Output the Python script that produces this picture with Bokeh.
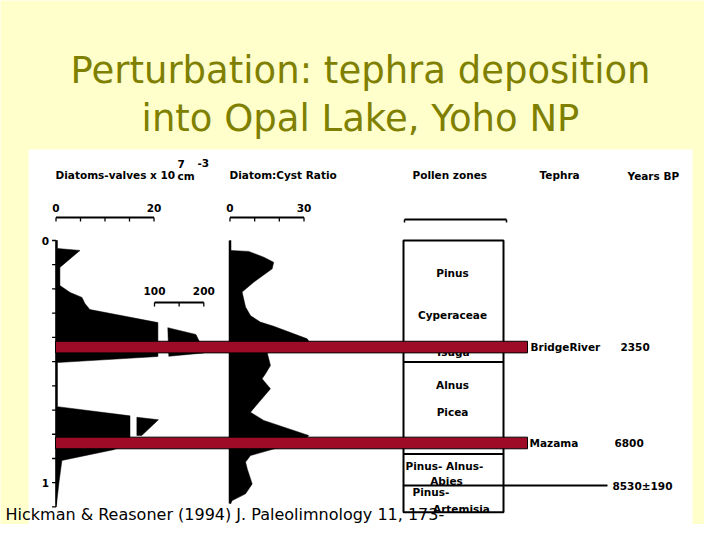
from bokeh.plotting import figure
from bokeh.models import Range1d
from bokeh.core.properties import value
from bokeh.embed import file_html
from bokeh.resources import INLINE

# ---------------- data ----------------
# Diatom valves (x10^7 cm^-3) on the 0-20 scale
dv_depth = [0.000, 0.033, 0.041, 0.111, 0.186, 0.215, 0.235, 0.260, 0.285, 0.339,
            0.479, 0.504, 0.686, 0.724, 0.838, 0.864, 0.908, 1.000, 1.090]
dv_value = [0.3, 0.3, 4.9, 0.8, 0.8, 2.9, 5.3, 5.9, 6.9, 20.8,
            20.8, 0.3, 0.3, 15.1, 15.1, 11.7, 1.2, 0.6, 0.1]
# off-scale peak, plotted on the broken 100-200 scale
dv_hi_depth = [0.360, 0.388, 0.413, 0.464, 0.478]
dv_hi_value = [127, 184, 190, 201, 129]
# second broken piece (0-20 scale units)
dv_brk_depth = [0.730, 0.740, 0.805, 0.805]
dv_brk_value = [16.5, 20.9, 17.5, 16.5]

# Diatom : cyst ratio
ratio_depth = [0.000, 0.041, 0.045, 0.069, 0.090, 0.117, 0.172, 0.213, 0.275, 0.310,
               0.337, 0.354, 0.406, 0.425, 0.455, 0.464, 0.488, 0.516, 0.550, 0.571,
               0.612, 0.709, 0.743, 0.805, 0.830, 0.860, 0.888, 0.915, 0.943, 1.005,
               1.046, 1.074, 1.086]
ratio_value = [0.2, 0.2, 7.6, 13.7, 17.7, 17.1, 9.6, 4.9, 6.3, 8.3,
               12.3, 17.7, 31.3, 32.5, 20.0, 15.1, 15.7, 16.4, 14.4, 13.0,
               16.4, 8.3, 13.7, 31.9, 30.0, 18.0, 8.3, 6.3, 7.0, 9.0,
               6.3, 0.9, 0.2]

# tephra layers
tephra_names = ["BridgeRiver", "Mazama"]
tephra_depth = [0.440, 0.836]
tephra_age = ["2350", "6800"]
tephra_thick = 0.048

# radiocarbon date
date_label = ["8530\u00b1190"]
date_depth = [1.012]

# pollen zones
zone_bounds = [0.0, 0.502, 0.881, 1.012, 1.122]
zone_labels = ["Pinus", "Cyperaceae", "Tsuga", "Alnus", "Picea"]
zone_label_depth = [0.136, 0.306, 0.462, 0.595, 0.710]
zone_labels2 = ["Pinus- Alnus-", "Pinus-"]
zone_labels2_depth = [0.933, 1.040]
zone_labels3 = ["Abies", "Artemisia"]
zone_labels3_depth = [0.991, 1.107]

# axes / scale bars
depth_ticks = [0.0, 0.1, 0.2, 0.3, 0.4, 0.5, 0.6, 0.7, 0.8, 0.9, 1.0, 1.1]
depth_tick_labels = ["0", "1"]
depth_tick_label_pos = [0.0, 1.0]
dv_ticks = [0, 5, 10, 15, 20]
dv_tick_labels = ["0", "20"]
dv_tick_label_pos = [0, 20]
dv_hi_ticks = [100, 150, 200]
dv_hi_tick_labels = ["100", "200"]
dv_hi_tick_label_pos = [100, 200]
ratio_ticks = [0, 10, 20, 30]
ratio_tick_labels = ["0", "30"]
ratio_tick_label_pos = [0, 30]

# ---------------- layout (screen px of the slide) ----------------
W, H = 704, 524
X0, Y0 = 0, 0


def D(y):      # screen y -> depth (m)
    return (y - 240.0) / 242.2


def V(x):      # screen x -> diatom scale
    return (x - 55.5) / 4.9


def HI(x):     # screen x -> broken 100-200 scale
    return 100 + (x - 154.0) / 0.493


def R(x):      # screen x -> ratio scale
    return (x - 229.5) / 2.467


p = figure(width=W, height=H, x_range=Range1d(X0, X0 + W), y_range=Range1d(Y0 + H, Y0),
           x_axis_location=None, y_axis_location=None, output_backend="svg",
           toolbar_location=None, min_border=0, background_fill_color="#FFFFCC",
           border_fill_color="#FFFFCC", outline_line_color=None)
p.title.visible = False
p.grid.grid_line_color = None
p.extra_x_ranges = {"dv": Range1d(V(X0), V(X0 + W)),
                    "dvhi": Range1d(HI(X0), HI(X0 + W)),
                    "ratio": Range1d(R(X0), R(X0 + W))}
p.extra_y_ranges = {"depth": Range1d(D(Y0 + H), D(Y0))}

# white scanned figure panel
p.quad(left=[28], right=[692], top=[149], bottom=[525], fill_color="white", line_color=None)

# title
p.text(x=[360, 360], y=[70, 118], text=["Perturbation: tephra deposition", "into Opal Lake, Yoho NP"],
       text_align="center", text_baseline="middle", text_color="#808000",
       text_font=value("DejaVu Sans"), text_font_size="37px")

bold = dict(text_font=value("DejaVu Sans"), text_font_style="bold", text_color="black")
FS = "10.5px"

# headers
p.text(x=[55], y=[174], text=["Diatoms-valves x 10"], text_align="left", text_baseline="middle",
       text_font_size=FS, **bold)
p.text(x=[177], y=[175], text=["cm"], text_align="left", text_baseline="middle", text_font_size=FS, **bold)
p.text(x=[177, 197], y=[163, 162], text=["7", "-3"], text_align="left", text_baseline="middle",
       text_font_size=FS, **bold)
p.text(x=[229, 412, 539, 627], y=[174, 174, 174, 175],
       text=["Diatom:Cyst Ratio", "Pollen zones", "Tephra", "Years BP"],
       text_align="left", text_baseline="middle", text_font_size=FS, **bold)

# ---- diatom valves panel ----
p.patch(x=[0] + dv_value + [0], y=[dv_depth[0]] + dv_depth + [dv_depth[-1]],
        x_range_name="dv", y_range_name="depth", fill_color="black", line_color="black", line_width=0.5)
p.patch(x=[dv_hi_value[0]] + dv_hi_value, y=[dv_hi_depth[0]] + dv_hi_depth,
        x_range_name="dvhi", y_range_name="depth", fill_color="black", line_color="black", line_width=0.5)
p.patch(x=dv_brk_value, y=dv_brk_depth, x_range_name="dv", y_range_name="depth",
        fill_color="black", line_color="black", line_width=0.5)
# depth axis
p.segment(x0=[0], x1=[0], y0=[depth_ticks[0]], y1=[depth_ticks[-1]], x_range_name="dv",
          y_range_name="depth", line_color="black", line_width=1.5)
p.segment(x0=[-0.8] * len(depth_ticks), x1=[0] * len(depth_ticks), y0=depth_ticks, y1=depth_ticks,
          x_range_name="dv", y_range_name="depth", line_color="black", line_width=1.3)
p.text(x=[-1.4] * 2, y=depth_tick_label_pos, text=depth_tick_labels, x_range_name="dv",
       y_range_name="depth", text_align="right", text_baseline="middle", text_font_size=FS, **bold)
# scale bar 0-20
p.segment(x0=[dv_ticks[0]], x1=[dv_ticks[-1]], y0=[217], y1=[217], x_range_name="dv",
          line_color="black", line_width=1.8)
p.segment(x0=dv_ticks, x1=dv_ticks, y0=[217] * 5, y1=[221] * 5, x_range_name="dv",
          line_color="black", line_width=1.3)
p.text(x=dv_tick_label_pos, y=[207, 207], text=dv_tick_labels, x_range_name="dv", text_align="center",
       text_baseline="middle", text_font_size=FS, **bold)
# scale bar 100-200
p.segment(x0=[dv_hi_ticks[0]], x1=[dv_hi_ticks[-1]], y0=[302], y1=[302], x_range_name="dvhi",
          line_color="black", line_width=1.8)
p.segment(x0=dv_hi_ticks, x1=dv_hi_ticks, y0=[302] * 3, y1=[306] * 3, x_range_name="dvhi",
          line_color="black", line_width=1.3)
p.text(x=dv_hi_tick_label_pos, y=[290, 290], text=dv_hi_tick_labels, x_range_name="dvhi",
       text_align="center", text_baseline="middle", text_font_size=FS, **bold)

# ---- ratio panel ----
p.patch(x=[0] + ratio_value + [0], y=[ratio_depth[0]] + ratio_depth + [ratio_depth[-1]],
        x_range_name="ratio", y_range_name="depth", fill_color="black", line_color="black", line_width=0.5)
p.segment(x0=[0], x1=[0], y0=[ratio_depth[0]], y1=[ratio_depth[-1]], x_range_name="ratio",
          y_range_name="depth", line_color="black", line_width=2.5)
p.segment(x0=[ratio_ticks[0]], x1=[ratio_ticks[-1]], y0=[217], y1=[217], x_range_name="ratio",
          line_color="black", line_width=1.8)
p.segment(x0=ratio_ticks, x1=ratio_ticks, y0=[217] * 4, y1=[221] * 4, x_range_name="ratio",
          line_color="black", line_width=1.3)
p.text(x=ratio_tick_label_pos, y=[207, 207], text=ratio_tick_labels, x_range_name="ratio",
       text_align="center", text_baseline="middle", text_font_size=FS, **bold)

# ---- pollen zones ----
p.segment(x0=[404], x1=[506], y0=[219], y1=[219], line_color="black", line_width=2)
p.segment(x0=[404, 506], x1=[404, 506], y0=[219, 219], y1=[222, 222], line_color="black", line_width=1.5)
p.quad(left=[403], right=[503], top=[zone_bounds[0]], bottom=[zone_bounds[-1]], y_range_name="depth",
       fill_color=None, line_color="black", line_width=2)
p.segment(x0=[403] * 2, x1=[503] * 2, y0=zone_bounds[1:3], y1=zone_bounds[1:3], y_range_name="depth",
          line_color="black", line_width=2)
p.text(x=[452] * len(zone_labels), y=zone_label_depth, text=zone_labels, y_range_name="depth",
       text_align="center", text_baseline="middle", text_font_size=FS, **bold)
p.text(x=[405, 412], y=zone_labels2_depth, text=zone_labels2, y_range_name="depth",
       text_align="left", text_baseline="middle", text_font_size=FS, **bold)
p.text(x=[446, 461], y=zone_labels3_depth, text=zone_labels3, y_range_name="depth",
       text_align="center", text_baseline="middle", text_font_size=FS, **bold)

# radiocarbon date line
p.segment(x0=[403], x1=[607], y0=date_depth, y1=date_depth, y_range_name="depth",
          line_color="black", line_width=2)
p.text(x=[612], y=date_depth, text=date_label, y_range_name="depth", text_align="left",
       text_baseline="middle", text_font_size=FS, **bold)

# tephra layers
p.hbar(y=tephra_depth, height=tephra_thick, left=55, right=527, y_range_name="depth",
       fill_color="#9E0B26", line_color="black", line_width=1)
p.text(x=[530, 529], y=tephra_depth, text=tephra_names, y_range_name="depth", text_align="left",
       text_baseline="middle", text_font_size=FS, **bold)
p.text(x=[620, 614], y=tephra_depth, text=tephra_age, y_range_name="depth", text_align="left",
       text_baseline="middle", text_font_size=FS, **bold)

# citation
p.text(x=[5], y=[514], text=["Hickman & Reasoner (1994) J. Paleolimnology 11, 173-"],
       text_align="left", text_baseline="middle", text_color="black",
       text_font=value("DejaVu Sans"), text_font_size="16px")

open("out.html", "w").write(file_html(p, INLINE))
